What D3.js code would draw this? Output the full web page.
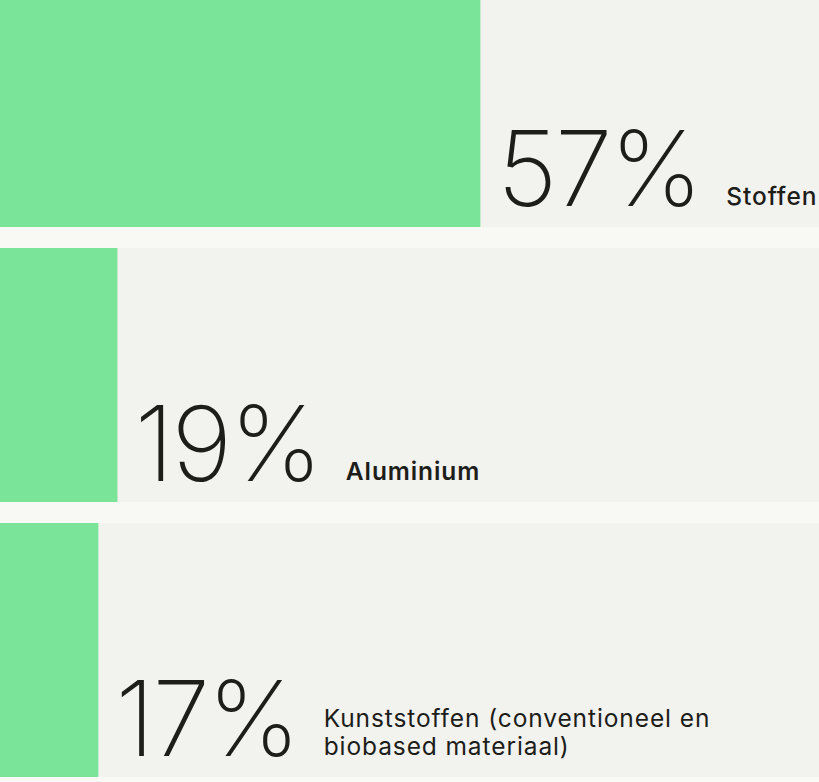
<!DOCTYPE html>
<html>
<head>
<meta charset="utf-8">
<script src="https://cdn.jsdelivr.net/npm/d3@7"></script>
<style>
  html, body { margin: 0; padding: 0; background: #f8f8f4; }
  svg { display: block; }
</style>
</head>
<body>
<svg id="chart" width="819" height="782"></svg>
<script>
const categories = ["Stoffen", "Aluminium", "Kunststoffen (conventioneel en biobased materiaal)"];
const labelLines = [["Stoffen"], ["Aluminium"], ["Kunststoffen (conventioneel en", "biobased materiaal)"]];
const values = [57, 19, 17];
const valueLabels = ["57%", "19%", "17%"];
const labelWeights = [500, 600, 400];

const W = 819, H = 782;
const svg = d3.select("#chart");

svg.append("rect").attr("width", W).attr("height", H).attr("fill", "#f8f8f4");

const y = d3.scaleBand().domain(categories).range([-27, 777]).paddingInner(21 / 275).paddingOuter(0);
const x = d3.scaleLinear().domain([0, 100]).range([-64, 891]);

const g = svg.selectAll("g.row").data(categories).join("g").attr("class", "row");

g.append("rect")
  .attr("x", 0).attr("y", d => y(d))
  .attr("width", W).attr("height", y.bandwidth())
  .attr("fill", "#f2f2ee");

g.append("rect")
  .attr("x", 0).attr("y", d => y(d))
  .attr("width", (d, i) => x(values[i]))
  .attr("height", y.bandwidth())
  .attr("fill", "#7ae598");

g.each(function(d, i) {
  const row = d3.select(this);
  const bottom = y(d) + y.bandwidth();
  const nx = x(values[i]) + 17;
  const num = row.append("text")
    .attr("x", nx)
    .attr("y", bottom - 21)
    .attr("font-family", "Inter, 'Noto Sans', sans-serif")
    .attr("font-weight", 200)
    .attr("font-size", 104)
    .attr("letter-spacing", -2.5)
    .attr("fill", "#1d1d1a")
    .text(valueLabels[i]);
  const end = nx + num.node().getComputedTextLength();
  const lines = labelLines[i];
  const lx = end + 26;
  const lab = row.append("text")
    .attr("font-family", "Inter, 'Noto Sans', sans-serif")
    .attr("font-weight", labelWeights[i])
    .attr("font-size", 24.5)
    .attr("letter-spacing", 0.9)
    .attr("fill", "#1d1d1a");
  lines.forEach((t, k) => {
    lab.append("tspan")
      .attr("x", lx)
      .attr("y", bottom - 22 - (lines.length - 1 - k) * 28.5)
      .text(t);
  });
});
</script>
</body>
</html>
